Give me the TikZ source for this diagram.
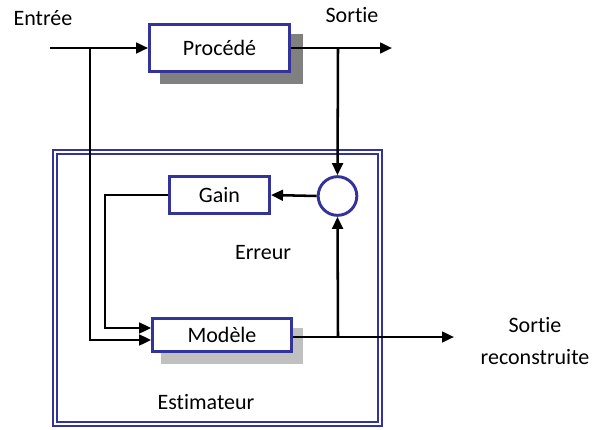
\documentclass[tikz,border=0pt]{standalone}
\usepackage{fontspec}
\setmainfont{Carlito}[Ligatures=NoCommon]
\usetikzlibrary{arrows.meta, positioning, calc, backgrounds}
\definecolor{est_blue}{HTML}{333399}
\definecolor{shade_dark}{HTML}{808080}
\definecolor{shade_light}{HTML}{C0C0C0}

\begin{document}
\begin{tikzpicture}[
        x=0.75pt, y=-0.75pt,
        block/.style={rectangle, draw=est_blue, line width=2.2pt, fill=white, inner sep=0pt, font=\fontsize{16.5}{19}\selectfont},
        sumnode/.style={circle, draw=est_blue, line width=2.2pt, fill=white, minimum size=29pt, inner sep=0pt},
        txt/.style={font=\fontsize{16.5}{19}\selectfont, inner sep=0pt},
        conn/.style={-{Triangle[length=9pt, width=8pt]}, line width=1.9pt},
        wire/.style={line width=1.9pt},
    ]
        \useasboundingbox (0,0) rectangle (592,429);

        % Estimator frame
        \node[draw=est_blue, double, double distance=1.6pt, line width=1.3pt, minimum width=244pt, minimum height=204pt, inner sep=0pt] (est) at (217.5,288) {};
        \node[txt] (est_lbl) at (206,402) {Estimateur};

        % Blocks
        \node[block, minimum width=105pt, minimum height=35pt] (proc) at (219.5,48) {Procédé};
        \node[block, minimum width=75pt, minimum height=28pt] (gain) at (219.5,195) {Gain};
        \node[block, minimum width=104pt, minimum height=25pt, text depth=-1pt] (model) at (222,335) {Modèle};
        \node[sumnode] (sum) at (337.5,196) {};

        % Shadows
        \begin{scope}[on background layer]
            \fill[shade_dark] ($(proc.north west)+(12,11)$) rectangle ($(proc.south east)+(12,11)$);
            \fill[shade_light] ($(model.north west)+(10,11)$) rectangle ($(model.south east)+(10,11)$);
        \end{scope}

        % Labels
        \node[txt] (in_lbl) at (43,18) {Entrée};
        \node[txt] (out_lbl) at (352,15) {Sortie};
        \node[txt] (err_lbl) at (263,253) {Erreur};
        \node[txt, align=center] (rec_lbl) at (535,341) {Sortie\\[5pt]reconstruite};

        % Free ends and corners
        \coordinate (in) at (50,48);
        \coordinate (out) at (392,48);
        \coordinate (rec) at (454,337);
        \coordinate (split_in) at (90,48);
        \coordinate (split_out) at (338,48);
        \coordinate (split_rec) at (338,337);

        % Connections
        \draw[conn] (in) -- (proc.west);
        \draw[conn] (proc.east) -- (out);
        \draw[conn] (split_out) -- (sum.north);
        \draw[conn] (split_in) -- (90,340) -- ($(model.west)+(0,5)$);
        \draw[conn] (sum.west) -- (gain.east);
        \draw[conn] (gain.west) -| (105,328) -- ($(model.west)+(0,-7)$);
        \draw[conn] (model.east |- rec) -- (rec);
        \draw[conn] (split_rec) -- (sum.south);
    \end{tikzpicture}
\end{document}
